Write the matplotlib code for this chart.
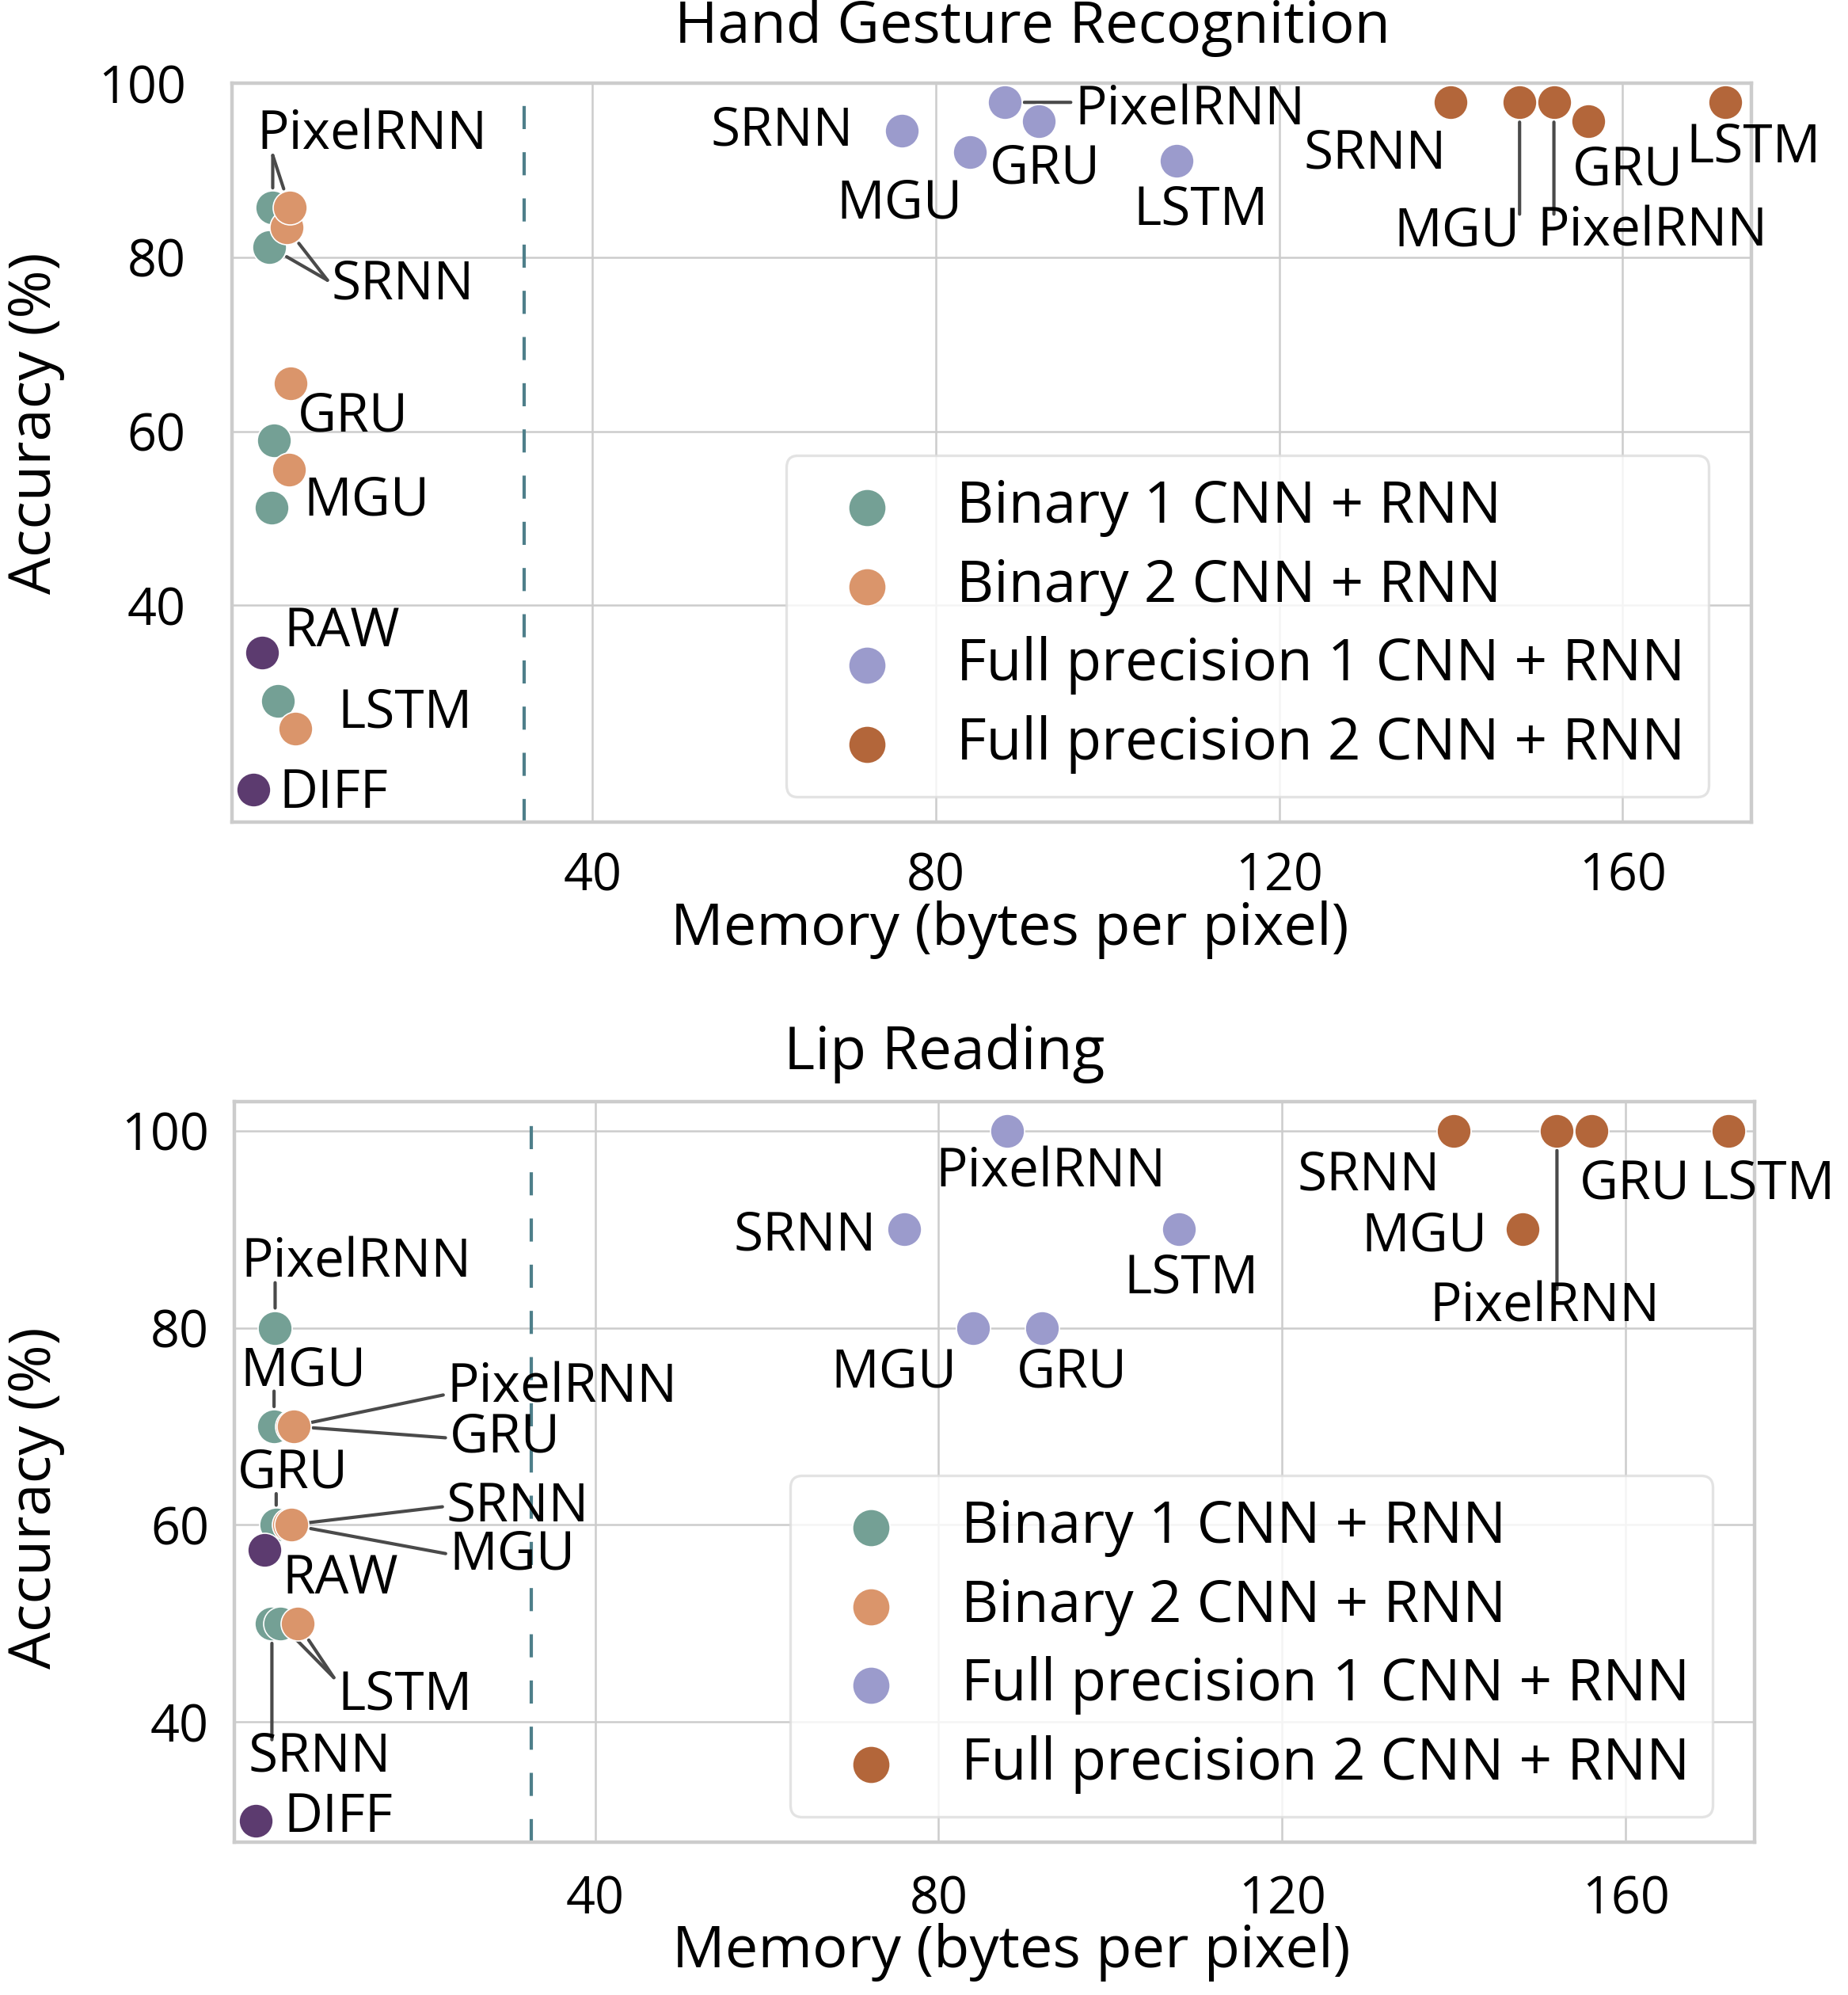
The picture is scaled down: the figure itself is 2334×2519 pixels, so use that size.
import numpy as np
import matplotlib
matplotlib.use("Agg")
import matplotlib.pyplot as plt

FONT = "Open Sans"
plt.rcParams.update({"font.family": [FONT, "DejaVu Sans"], "font.size": 23})

MODELS = ["SRNN", "MGU", "PixelRNN", "GRU", "LSTM"]
SERIES = ["bin1", "bin2", "fp1", "fp2"]
SERIES_LABELS = ["Binary 1 CNN + RNN", "Binary 2 CNN + RNN",
                 "Full precision 1 CNN + RNN", "Full precision 2 CNN + RNN"]
COLORS = {"bin1": "#74a095", "bin2": "#da956b", "fp1": "#9b9bcc",
          "fp2": "#b3663a", "input": "#5c3b6f"}

# memory (bytes per pixel) for SRNN, MGU, PixelRNN, GRU, LSTM
mem_bin1 = [2.375, 2.625, 2.75, 2.875, 3.375]
mem_bin2 = [4.375, 4.625, 4.75, 4.875, 5.375]
mem_fp1 = [76, 84, 88, 92, 108]
mem_fp2 = [140, 148, 152, 156, 172]
mem_raw = 1.5
mem_diff = 0.5

# accuracy (%) - hand gesture recognition
hg_bin1 = [81.2, 51.2, 85.7, 59.0, 29.0]
hg_bin2 = [83.4, 55.6, 85.7, 65.5, 25.8]
hg_fp1 = [94.5, 92.1, 97.8, 95.6, 91.1]
hg_fp2 = [97.8, 97.8, 97.8, 95.6, 97.8]
hg_raw = 34.6
hg_diff = 18.8

# accuracy (%) - lip reading
lr_bin1 = [50, 70, 80, 60, 50]
lr_bin2 = [60, 60, 70, 70, 50]
lr_fp1 = [90, 80, 100, 80, 90]
lr_fp2 = [100, 90, 100, 100, 100]
lr_raw = 57.5
lr_diff = 30

# label placement: (text, x, y, [(series, model)], leader anchor)
# anchor: None = no line, "near" = closest point of the glyph box, (fx, fy) = spot on the glyph box
HG_LABELS = [
    ("PixelRNN", 14.3, 94.0, [("bin1", "PixelRNN"), ("bin2", "PixelRNN")], (0.07, 0.0)),
    ("SRNN", 17.9, 76.8, [("bin1", "SRNN"), ("bin2", "SRNN")], (0.0, 0.7)),
    ("GRU", 12.1, 61.6, [("bin1", "GRU")], None),
    ("MGU", 13.7, 52.0, [("bin1", "MGU")], None),
    ("LSTM", 18.2, 27.6, [("bin1", "LSTM")], None),
    ("RAW", 10.8, 36.9, [("input", "RAW")], None),
    ("DIFF", 9.8, 18.4, [("input", "DIFF")], None),
    ("SRNN", 62.1, 94.5, [("fp1", "SRNN")], None),
    ("MGU", 75.8, 86.1, [("fp1", "MGU")], None),
    ("PixelRNN", 109.6, 96.8, [("fp1", "PixelRNN")], "near"),
    ("GRU", 92.7, 90.1, [("fp1", "GRU")], None),
    ("LSTM", 110.9, 85.4, [("fp1", "LSTM")], None),
    ("SRNN", 131.2, 91.8, [("fp2", "SRNN")], None),
    ("MGU", 140.7, 82.9, [("fp2", "MGU")], "near"),
    ("GRU", 160.6, 89.9, [("fp2", "GRU")], None),
    ("PixelRNN", 163.5, 82.9, [("fp2", "PixelRNN")], "near"),
    ("LSTM", 175.2, 92.6, [("fp2", "LSTM")], None),
]
LR_LABELS = [
    ("PixelRNN", 12.2, 86.6, [("bin1", "PixelRNN")], "near"),
    ("MGU", 6.0, 75.6, [("bin1", "MGU")], "near"),
    ("GRU", 4.8, 65.2, [("bin1", "GRU")], "near"),
    ("PixelRNN", 36.2, 73.9, [("bin2", "PixelRNN")], (0.0, 0.3)),
    ("GRU", 29.5, 68.8, [("bin2", "GRU")], (0.0, 0.55)),
    ("SRNN", 31.0, 61.8, [("bin2", "SRNN")], (0.0, 0.55)),
    ("MGU", 30.4, 56.9, [("bin2", "MGU")], (0.0, 0.6)),
    ("RAW", 10.3, 54.5, [("input", "RAW")], None),
    ("LSTM", 17.9, 42.7, [("bin1", "LSTM"), ("bin2", "LSTM")], "near"),
    ("SRNN", 7.9, 36.4, [("bin1", "SRNN")], "near"),
    ("DIFF", 10.1, 30.3, [("input", "DIFF")], None),
    ("PixelRNN", 93.0, 95.7, [("fp1", "PixelRNN")], None),
    ("SRNN", 64.4, 89.3, [("fp1", "SRNN")], None),
    ("LSTM", 109.4, 85.0, [("fp1", "LSTM")], None),
    ("MGU", 74.8, 75.4, [("fp1", "MGU")], None),
    ("GRU", 95.5, 75.4, [("fp1", "GRU")], None),
    ("SRNN", 130.1, 95.4, [("fp2", "SRNN")], None),
    ("MGU", 136.6, 89.2, [("fp2", "MGU")], None),
    ("GRU", 161.1, 94.5, [("fp2", "GRU")], None),
    ("LSTM", 176.5, 94.5, [("fp2", "LSTM")], None),
    ("PixelRNN", 150.6, 82.1, [("fp2", "PixelRNN")], "near"),
]

W, H, DPI = 2334, 2519, 200
DOT = 240


def point_table(mems, accs, raw, diff):
    pts = {}
    for key, m, a in zip(SERIES, mems, accs):
        for name, x, y in zip(MODELS, m, a):
            pts[(key, name)] = (x, y)
    pts[("input", "RAW")] = raw
    pts[("input", "DIFF")] = diff
    return pts


def draw_panel(ax, mems, accs, raw, diff, labels, threshold, ylim, ypad, xpad, legend_xy):
    for key, lab, m, a in zip(SERIES, SERIES_LABELS, mems, accs):
        ax.scatter(m, a, s=DOT, color=COLORS[key], edgecolor="white", linewidth=0.6,
                   zorder=3, label=lab)
    ax.scatter([raw[0], diff[0]], [raw[1], diff[1]], s=DOT, color=COLORS["input"],
               edgecolor="white", linewidth=0.6, zorder=3)
    ax.axvline(threshold, color="#4e7f8a", lw=1.5, linestyle=(0, (7, 7)), zorder=1)

    ax.set_xlim(-2.0, 175.0)
    ax.set_ylim(*ylim)
    ax.set_xticks([40, 80, 120, 160])
    ax.set_yticks([40, 60, 80, 100])
    ax.grid(True, color="#cccccc", lw=0.9)
    ax.set_axisbelow(True)
    for s in ax.spines.values():
        s.set_color("#cccccc")
        s.set_linewidth(1.6)
    ax.tick_params(axis="both", length=0, labelsize=23.3)
    ax.tick_params(axis="y", pad=ypad)
    ax.tick_params(axis="x", pad=xpad)

    leg = ax.legend(loc="lower left", bbox_to_anchor=legend_xy,
                    bbox_transform=ax.figure.transFigure, borderaxespad=0,
                    fontsize=26.3, frameon=True, framealpha=0.8, edgecolor="#dddddd",
                    handletextpad=0.55, labelspacing=0.35, borderpad=0.4,
                    markerscale=1.1)
    leg.get_frame().set_linewidth(1.2)

    pts = point_table(mems, accs, raw, diff)
    texts = []
    for text, x, y, targets, anchor in labels:
        t = ax.text(x, y, text, ha="center", va="center", fontsize=24.3, zorder=4,
                    clip_on=False)
        texts.append((t, [pts[k] for k in targets], anchor))
    return texts


def add_leaders(fig, ax, texts):
    renderer = fig.canvas.get_renderer()
    inv = ax.transData.inverted()
    pad = 5
    for t, targets, anchor in texts:
        if anchor is None:
            continue
        bb = t.get_window_extent(renderer)
        # box around the glyphs only: drop descent below and leading above
        gx0, gx1 = bb.x0, bb.x1
        gy0 = bb.y0 + 0.2 * bb.height
        gy1 = bb.y0 + 0.76 * bb.height
        for p in targets:
            px, py = ax.transData.transform(p)
            if anchor == "near":
                cx = np.clip(px, gx0 - pad, gx1 + pad)
                cy = np.clip(py, gy0 - pad, gy1 + pad)
            else:
                cx = gx0 + anchor[0] * (gx1 - gx0)
                cy = gy0 + anchor[1] * (gy1 - gy0)
                if anchor[0] == 0.0:
                    cx -= pad
                if anchor[1] == 0.0:
                    cy -= pad
            start = inv.transform((cx, cy))
            ax.annotate("", xy=p, xytext=start,
                        arrowprops=dict(arrowstyle="-", color="#4a4a4a", lw=1.5,
                                        shrinkA=0, shrinkB=9), zorder=2)


fig = plt.figure(figsize=(W / DPI, H / DPI), dpi=DPI)
ax1 = fig.add_axes([0.1255, 0.5879, 0.9477 - 0.1255, 0.9583 - 0.5879])
ax2 = fig.add_axes([0.1268, 0.0765, 0.9494 - 0.1268, 0.4476 - 0.0765])

t1 = draw_panel(ax1, [mem_bin1, mem_bin2, mem_fp1, mem_fp2], [hg_bin1, hg_bin2, hg_fp1, hg_fp2],
                (mem_raw, hg_raw), (mem_diff, hg_diff), HG_LABELS, 32.0, (15.1, 100.0),
                21, 13, (0.4254, 0.6006))
t2 = draw_panel(ax2, [mem_bin1, mem_bin2, mem_fp1, mem_fp2], [lr_bin1, lr_bin2, lr_fp1, lr_fp2],
                (mem_raw, lr_raw), (mem_diff, lr_diff), LR_LABELS, 32.6, (27.8, 102.9),
                11.5, 14.5, (0.4276, 0.0893))

fig.text(1304 / W, 1 - 35 / H, "Hand Gesture Recognition", ha="center", va="center", fontsize=26.6)
fig.text(1193 / W, 1 - 1330 / H, "Lip Reading", ha="center", va="center", fontsize=27)
fig.text(1275 / W, 1 - 1174 / H, "Memory (bytes per pixel)", ha="center", va="center", fontsize=26.7)
fig.text(1277 / W, 1 - 2465 / H, "Memory (bytes per pixel)", ha="center", va="center", fontsize=26.7)
fig.text(45 / W, 1 - 534 / H, "Accuracy (%)", ha="center", va="center", rotation=90, fontsize=26.7)
fig.text(45 / W, 1 - 1891 / H, "Accuracy (%)", ha="center", va="center", rotation=90, fontsize=26.7)

fig.canvas.draw()
add_leaders(fig, ax1, t1)
add_leaders(fig, ax2, t2)

fig.savefig("out.png", dpi=DPI)
